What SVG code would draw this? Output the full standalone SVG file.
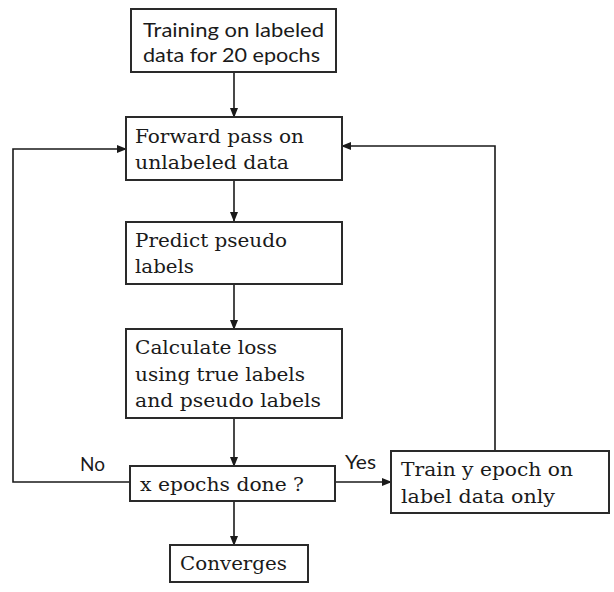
<svg xmlns="http://www.w3.org/2000/svg" width="614" height="592" viewBox="0 0 614 592">
<defs>
<marker id="ah" markerWidth="10" markerHeight="8" refX="9" refY="4" orient="auto" markerUnits="userSpaceOnUse">
<path d="M0,0 L10,4 L0,8 Z" fill="#1a1a1a"/>
</marker>
<style>
.box{fill:#fff;stroke:#2a2a2a;stroke-width:2}
.serif{font-family:"DejaVu Serif","Liberation Serif",serif;font-size:19px;fill:#1a1a1a}
.sans{font-family:Lato,"Open Sans","Liberation Sans",sans-serif;font-size:20px;fill:#1a1a1a}
.con{fill:none;stroke:#1a1a1a;stroke-width:1.6}
</style>
</defs>
<rect width="614" height="592" fill="#fff"/>
<g id="connectors">
<path class="con" d="M234,72 L234,117" marker-end="url(#ah)"/>
<path class="con" d="M234,180 L234,221" marker-end="url(#ah)"/>
<path class="con" d="M234,284 L234,329" marker-end="url(#ah)"/>
<path class="con" d="M234,418 L234,466" marker-end="url(#ah)"/>
<path class="con" d="M234,501 L234,545" marker-end="url(#ah)"/>
<path class="con" d="M130,482 L13,482 L13,149 L126,149" marker-end="url(#ah)"/>
<path class="con" d="M335,482 L391,482" marker-end="url(#ah)"/>
<path class="con" d="M495,451 L495,146 L342,146" marker-end="url(#ah)"/>
<text class="sans" x="80" y="471" textLength="25" lengthAdjust="spacingAndGlyphs">No</text>
<text class="sans" x="345" y="469" textLength="31" lengthAdjust="spacingAndGlyphs">Yes</text>
</g>
<g id="n1">
<rect class="box" x="131" y="9" width="205" height="63"/>
<text class="sans" x="143" y="37" textLength="181" lengthAdjust="spacingAndGlyphs">Training on labeled</text>
<text class="sans" x="143" y="62" textLength="177" lengthAdjust="spacingAndGlyphs">data for 20 epochs</text>
</g>
<g id="n2">
<rect class="box" x="126" y="117" width="216" height="63"/>
<text class="serif" x="135" y="143" textLength="169" lengthAdjust="spacingAndGlyphs">Forward pass on</text>
<text class="serif" x="135" y="169" textLength="154" lengthAdjust="spacingAndGlyphs">unlabeled data</text>
</g>
<g id="n3">
<rect class="box" x="126" y="222" width="216" height="62"/>
<text class="serif" x="135" y="247" textLength="152" lengthAdjust="spacingAndGlyphs">Predict pseudo</text>
<text class="serif" x="135" y="273" textLength="59" lengthAdjust="spacingAndGlyphs">labels</text>
</g>
<g id="n4">
<rect class="box" x="126" y="329" width="216" height="89"/>
<text class="serif" x="135" y="354" textLength="142" lengthAdjust="spacingAndGlyphs">Calculate loss</text>
<text class="serif" x="135" y="381" textLength="170" lengthAdjust="spacingAndGlyphs">using true labels</text>
<text class="serif" x="135" y="407" textLength="186" lengthAdjust="spacingAndGlyphs">and pseudo labels</text>
</g>
<g id="n5">
<rect class="box" x="130" y="466" width="205" height="35"/>
<text class="serif" x="140" y="491" textLength="164" lengthAdjust="spacingAndGlyphs">x epochs done ?</text>
</g>
<g id="n6">
<rect class="box" x="391" y="451" width="218" height="62"/>
<text class="serif" x="401" y="476" textLength="172" lengthAdjust="spacingAndGlyphs">Train y epoch on</text>
<text class="serif" x="401" y="503" textLength="154" lengthAdjust="spacingAndGlyphs">label data only</text>
</g>
<g id="n7">
<rect class="box" x="170" y="545" width="138" height="37"/>
<text class="serif" x="180" y="570" textLength="107" lengthAdjust="spacingAndGlyphs">Converges</text>
</g>
</svg>
